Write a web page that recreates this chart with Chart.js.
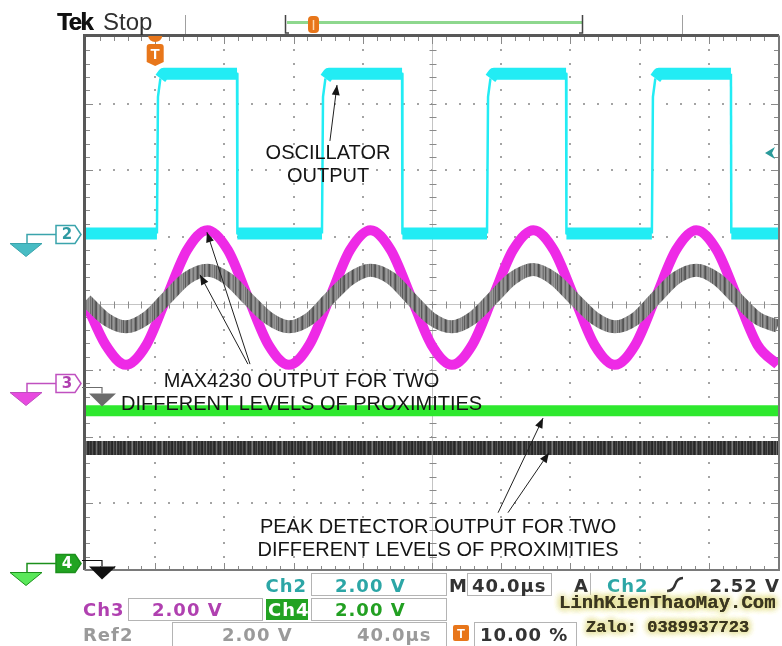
<!DOCTYPE html>
<html><head><meta charset="utf-8">
<script src="https://cdn.jsdelivr.net/npm/chart.js@4.4.1/dist/chart.umd.min.js"></script>
<style>html,body{margin:0;padding:0;background:#fff;}canvas{display:block;}</style>
</head><body>
<canvas id="c" width="782" height="646"></canvas>
<script>
// ---- axes: time in µs (40 µs/div, 10 div), vertical in divisions (8 div) ----
const timeMin = 0, timeMax = 400, timeDiv = 40;
const divMin = -4, divMax = 4;

// ---- Ch2: oscillator output (square wave) ----
const cyanT = [0, 41.0, 41.6, 43.0, 45.0, 87.3, 87.5, 136.4, 137.0, 138.4, 140.4, 182.7, 182.9,
               231.8, 232.4, 233.8, 235.8, 277.5, 277.7, 327.1, 327.7, 329.1, 331.1, 372.8, 373.0, 400];
const cyanV = [1.05, 1.05, 3.10, 3.38, 3.45, 3.45, 1.05, 1.05, 3.10, 3.38, 3.45, 3.45, 1.05,
               1.05, 3.10, 3.38, 3.45, 3.45, 1.05, 1.05, 3.10, 3.38, 3.45, 3.45, 1.05, 1.05];

// ---- Ch3 (MAX4230 output, near) and Ref2 (MAX4230 output, far) ----
const sineT = [0, 11.3, 23.1, 34.9, 46.6, 58.4, 70.2, 82.0, 93.7, 105.5, 117.3, 129.1, 140.9, 152.6,
               164.4, 176.2, 188.0, 199.7, 211.5, 223.3, 235.1, 246.8, 258.6, 270.4, 282.2, 293.9,
               305.7, 317.5, 329.3, 341.0, 352.8, 364.6, 376.4, 388.1, 399.9];
const magV  = [0.00, -0.62, -0.92, -0.62, 0.09, 0.80, 1.10, 0.80, 0.09, -0.62, -0.92, -0.62, 0.09, 0.80,
               1.10, 0.80, 0.09, -0.62, -0.92, -0.62, 0.09, 0.80, 1.10, 0.80, 0.09, -0.62,
               -0.92, -0.62, 0.09, 0.80, 1.10, 0.80, 0.09, -0.62, -0.92];
const refV  = [0.05, -0.23, -0.35, -0.22, 0.08, 0.38, 0.50, 0.37, 0.07, -0.22, -0.35, -0.23, 0.08, 0.37,
               0.50, 0.38, 0.07, -0.23, -0.35, -0.22, 0.08, 0.38, 0.51, 0.37, 0.07, -0.22,
               -0.35, -0.23, 0.08, 0.38, 0.50, 0.37, 0.07, -0.22, -0.34];

// ---- Ch4 and Ref1: peak detector outputs ----
const flatT  = [0, 400];
const greenV = [-1.61, -1.61];
const darkV  = [-2.17, -2.17];

// ---- markers (divisions / µs) ----
const ch2Ground = 1.05, ch3Ground = -1.19, ref2Ground = -1.25, ch4Ground = -3.89, ref1Ground = -3.85;
const trigLevel = 2.26, trigTime = 40;

// ---- readouts ----
const readCh2 = '2.00 V', readCh3 = '2.00 V', readCh4 = '2.00 V';
const readRef2V = '2.00 V', readRef2T = '40.0\u00b5s';
const readTime = '40.0\u00b5s', readTrig = '2.52 V', readPos = '10.00 %';

const pts = (T, V) => T.map((t, i) => ({x: t, y: V[i]}));

const cv = document.getElementById('c');
const ctx0 = cv.getContext('2d');
function stripes(cols) {
  const c = document.createElement('canvas'); c.width = cols.length; c.height = 4;
  const g = c.getContext('2d');
  cols.forEach((col, i) => { g.fillStyle = col; g.fillRect(i, 0, 1, 4); });
  return ctx0.createPattern(c, 'repeat');
}
const refPat = stripes(['#8a8a8a','#7c7c7c','#5e5e5e','#555555','#8e8e8e','#9a9a9a','#848484','#6a6a6a','#909090',
  '#969696','#7a7a7a','#4e4e4e','#626262','#8c8c8c','#9c9c9c','#888888','#727272','#949494','#5a5a5a','#808080',
  '#989898','#8a8a8a','#666666','#525252','#7e7e7e','#929292','#868686','#9a9a9a','#707070','#8c8c8c','#5c5c5c']);
const darkPat = stripes(['#2c2c2c','#333333','#555555','#303030','#262626','#3c3c3c','#6e6e6e','#444444','#2a2a2a',
  '#383838','#2e2e2e','#5a5a5a','#7a7a7a','#353535','#282828','#404040','#303030','#626262','#2a2a2a','#363636',
  '#4a4a4a','#2c2c2c','#242424','#585858','#3a3a3a','#2e2e2e','#6a6a6a','#323232','#2a2a2a','#444444']);

function arrow(ctx, x1, y1, x2, y2) {
  ctx.beginPath(); ctx.moveTo(x1, y1); ctx.lineTo(x2, y2); ctx.stroke();
  const a = Math.atan2(y2 - y1, x2 - x1), L = 10, W = 4;
  ctx.beginPath();
  ctx.moveTo(x2, y2);
  ctx.lineTo(x2 - L*Math.cos(a) + W*Math.sin(a), y2 - L*Math.sin(a) - W*Math.cos(a));
  ctx.lineTo(x2 - L*Math.cos(a) - W*Math.sin(a), y2 - L*Math.sin(a) + W*Math.cos(a));
  ctx.closePath(); ctx.fill();
}
function rrect(ctx, x, y, w, h, r) {
  ctx.beginPath(); ctx.moveTo(x + r, y); ctx.arcTo(x + w, y, x + w, y + h, r);
  ctx.arcTo(x + w, y + h, x, y + h, r); ctx.arcTo(x, y + h, x, y, r); ctx.arcTo(x, y, x + w, y, r); ctx.closePath();
}

const graticule = {
  id: 'graticule',
  beforeDatasetsDraw(chart) {
    const {ctx, chartArea: a, scales: {x, y}} = chart;
    const X = v => x.getPixelForValue(v), Y = v => y.getPixelForValue(v);
    ctx.save();
    ctx.fillStyle = '#a4a4a4';
    for (let i = 1; i < 10; i++) {
      if (i === 5) continue;
      const px = Math.round(X(i * timeDiv));
      for (let k = 1; k < 40; k++) ctx.fillRect(px - 1, Math.round(Y(divMin + k * 0.2)) - 1, 2, 2);
    }
    for (let j = -3; j <= 3; j++) {
      if (j === 0) continue;
      const py = Math.round(Y(j));
      for (let k = 1; k < 50; k++) ctx.fillRect(Math.round(X(k * 8)) - 1, py - 1, 2, 2);
    }
    const cx = Math.round(X(200)) + 0.5, cy = Math.round(Y(0)) + 0.5;
    ctx.strokeStyle = '#c4c4c4'; ctx.lineWidth = 1;
    ctx.beginPath(); ctx.moveTo(cx, a.top); ctx.lineTo(cx, a.bottom); ctx.moveTo(a.left, cy); ctx.lineTo(a.right, cy); ctx.stroke();
    ctx.strokeStyle = '#8a8a8a';
    ctx.beginPath();
    for (let k = 1; k < 40; k++) { const py = Math.round(Y(divMin + k * 0.2)) + 0.5; ctx.moveTo(cx - 3, py); ctx.lineTo(cx + 4, py); }
    for (let k = 1; k < 50; k++) { const px = Math.round(X(k * 8)) + 0.5; ctx.moveTo(px, cy - 3); ctx.lineTo(px, cy + 4); }
    for (let k = 1; k < 50; k++) {
      const px = Math.round(X(k * 8)) + 0.5, L = k % 5 === 0 ? 7 : 4;
      ctx.moveTo(px, a.top); ctx.lineTo(px, a.top + L); ctx.moveTo(px, a.bottom); ctx.lineTo(px, a.bottom - L);
    }
    for (let k = 1; k < 40; k++) {
      const py = Math.round(Y(divMin + k * 0.2)) + 0.5, L = k % 5 === 0 ? 7 : 4;
      ctx.moveTo(a.left, py); ctx.lineTo(a.left + L, py); ctx.moveTo(a.right, py); ctx.lineTo(a.right - L, py);
    }
    ctx.stroke();
    ctx.restore();
  },
  afterDatasetsDraw(chart) {
    const {ctx, chartArea: a, scales: {x, y}} = chart;
    const X = v => x.getPixelForValue(v), Y = v => y.getPixelForValue(v);
    ctx.save();
    // frame
    ctx.strokeStyle = '#585858'; ctx.lineWidth = 3;
    ctx.beginPath(); ctx.moveTo(a.left - 1.5, a.bottom); ctx.lineTo(a.left - 1.5, a.top - 1.5); ctx.lineTo(a.right + 1, a.top - 1.5); ctx.stroke();
    ctx.strokeStyle = '#7a7a7a'; ctx.lineWidth = 2;
    ctx.beginPath(); ctx.moveTo(a.right + 1, a.top - 1.5); ctx.lineTo(a.right + 1, a.bottom); ctx.lineTo(a.left - 1.5, a.bottom); ctx.stroke();

    // annotations
    ctx.fillStyle = '#151515'; ctx.strokeStyle = '#202020'; ctx.lineWidth = 1;
    ctx.font = '20px "Liberation Sans", Arial, sans-serif'; ctx.textAlign = 'center'; ctx.textBaseline = 'alphabetic';
    ctx.fillText('OSCILLATOR', X(139.9), Y(2.17));
    ctx.fillText('OUTPUT', X(139.9), Y(1.82));
    ctx.fillText('MAX4230 OUTPUT FOR TWO', X(124.6), Y(-1.25));
    ctx.fillText('DIFFERENT LEVELS OF PROXIMITIES', X(124.6), Y(-1.60));
    ctx.fillText('PEAK DETECTOR OUTPUT FOR TWO', X(203.5), Y(-3.445));
    ctx.fillText('DIFFERENT LEVELS OF PROXIMITIES', X(203.5), Y(-3.79));
    arrow(ctx, X(141.0), Y(2.44), X(145.1), Y(3.28));
    arrow(ctx, X(94.8), Y(-0.91), X(69.9), Y(1.07));
    arrow(ctx, X(93.6), Y(-0.91), X(65.9), Y(0.43));
    arrow(ctx, X(238.2), Y(-3.14), X(264.2), Y(-1.72));
    arrow(ctx, X(243.9), Y(-3.14), X(267.6), Y(-2.24));

    // ground markers on the left
    const L = a.left;
    function tag(level, label, stroke, fill, txt, triFill) {
      const py = Math.round(Y(level)) + 0.5;
      ctx.strokeStyle = stroke; ctx.lineWidth = 1.5;
      ctx.beginPath(); ctx.moveTo(L - 29, py); ctx.lineTo(L - 59, py); ctx.lineTo(L - 59, py + 9); ctx.stroke();
      ctx.beginPath(); ctx.moveTo(L - 76, py + 9); ctx.lineTo(L - 44, py + 9); ctx.lineTo(L - 60, py + 22); ctx.closePath();
      ctx.fillStyle = triFill; ctx.fill(); ctx.lineWidth = 1; ctx.stroke();
      ctx.beginPath(); ctx.moveTo(L - 30, py - 9); ctx.lineTo(L - 11, py - 9); ctx.lineTo(L - 5, py); ctx.lineTo(L - 11, py + 9); ctx.lineTo(L - 30, py + 9); ctx.closePath();
      ctx.fillStyle = fill; ctx.fill(); ctx.lineWidth = 1.5; ctx.strokeStyle = stroke; ctx.stroke();
      ctx.fillStyle = txt; ctx.font = 'bold 15px "DejaVu Sans", sans-serif'; ctx.textAlign = 'center'; ctx.textBaseline = 'middle';
      ctx.fillText(label, L - 19, py + 1);
    }
    tag(ch2Ground, '2', '#3aa4ac', '#ffffff', '#2e9aa2', '#48bcc4');
    tag(ch3Ground, '3', '#c050c0', '#ffffff', '#b040b0', '#e84ae0');
    tag(ch4Ground, '4', '#1c901c', '#22a422', '#ffffff', '#5ae85a');
    function refTri(level, col) {
      const py = Math.round(Y(level)) + 0.5;
      ctx.strokeStyle = col; ctx.lineWidth = 1.2;
      ctx.beginPath(); ctx.moveTo(L - 4, py); ctx.lineTo(L + 16, py); ctx.lineTo(L + 16, py + 6); ctx.stroke();
      ctx.beginPath(); ctx.moveTo(L + 3, py + 6); ctx.lineTo(L + 30, py + 6); ctx.lineTo(L + 16, py + 19); ctx.closePath();
      ctx.fillStyle = col; ctx.fill();
    }
    refTri(ref2Ground, '#6c6c6c');
    refTri(ref1Ground, '#111111');

    // trigger level arrow (right)
    const ty = Y(trigLevel);
    ctx.fillStyle = '#2a9a9a';
    ctx.beginPath(); ctx.moveTo(a.right - 13, ty); ctx.lineTo(a.right - 3, ty - 6); ctx.lineTo(a.right - 6, ty); ctx.lineTo(a.right - 3, ty + 6); ctx.closePath(); ctx.fill();

    // trigger position marker (top)
    const tx = X(trigTime);
    ctx.fillStyle = '#e8761a';
    ctx.beginPath(); ctx.ellipse(tx, a.top - 1, 7, 6, 0, 0, Math.PI); ctx.fill();
    ctx.beginPath(); ctx.moveTo(tx - 8.5, a.top + 10); ctx.arcTo(tx - 8.5, a.top + 7, tx, a.top + 7, 3); ctx.lineTo(tx + 5.5, a.top + 7);
    ctx.arcTo(tx + 8.5, a.top + 7, tx + 8.5, a.top + 10, 3); ctx.lineTo(tx + 8.5, a.top + 25); ctx.lineTo(tx, a.top + 29); ctx.lineTo(tx - 8.5, a.top + 25); ctx.closePath(); ctx.fill();
    ctx.fillStyle = '#fff'; ctx.font = 'bold 15px "Liberation Sans", sans-serif'; ctx.textAlign = 'center'; ctx.textBaseline = 'middle';
    ctx.fillText('T', tx, a.top + 18);
    ctx.restore();
  },
  afterDraw(chart) {
    const {ctx} = chart;
    ctx.save();
    ctx.textBaseline = 'alphabetic'; ctx.textAlign = 'left';
    // header
    ctx.fillStyle = '#111';
    ctx.font = 'bold 24px "Liberation Sans", Arial, sans-serif';
    ctx.letterSpacing = '-1.5px';
    ctx.fillText('Tek', 57, 30);
    ctx.fillText('Tek', 57.5, 30);
    ctx.letterSpacing = '0px';
    ctx.fillStyle = '#303030';
    ctx.font = '24px "Liberation Sans", Arial, sans-serif';
    ctx.fillText('Stop', 103, 30);
    ctx.strokeStyle = '#a0a0a0'; ctx.lineWidth = 1;
    ctx.beginPath(); ctx.moveTo(185.5, 15); ctx.lineTo(185.5, 34); ctx.moveTo(682.5, 15); ctx.lineTo(682.5, 34); ctx.stroke();
    ctx.strokeStyle = '#8ed88e'; ctx.lineWidth = 3;
    ctx.beginPath(); ctx.moveTo(287, 22.5); ctx.lineTo(582, 22.5); ctx.stroke();
    ctx.strokeStyle = '#444'; ctx.lineWidth = 1.5;
    ctx.beginPath(); ctx.moveTo(285.5, 15); ctx.lineTo(285.5, 33); ctx.lineTo(289, 33); ctx.moveTo(582.5, 15); ctx.lineTo(582.5, 33); ctx.lineTo(579, 33); ctx.stroke();
    ctx.fillStyle = '#e8761a'; rrect(ctx, 308, 16, 11, 17, 4); ctx.fill();
    ctx.strokeStyle = '#ffd9b0'; ctx.lineWidth = 1.5; ctx.beginPath(); ctx.moveTo(313.5, 20); ctx.lineTo(313.5, 30); ctx.stroke();

    // readout boxes
    ctx.strokeStyle = '#b4b4b4'; ctx.lineWidth = 1;
    const boxes = [[311.5,573.5,135,22],[467.5,573.5,84,22],[128.5,598.5,134,22],[311.5,598.5,135,22],[172.5,622.5,274,26],[474.5,622.5,102,26]];
    boxes.forEach(b => ctx.strokeRect(b[0], b[1], b[2], b[3]));
    ctx.beginPath(); ctx.moveTo(590.5, 573); ctx.lineTo(590.5, 595); ctx.stroke();
    ctx.fillStyle = '#22a222'; ctx.fillRect(266, 599, 42, 21);

    ctx.font = 'bold 18px "DejaVu Sans", Verdana, sans-serif';
    ctx.letterSpacing = '1px';
    const T = (s, xx, yy, col, al) => { ctx.fillStyle = col; ctx.textAlign = al || 'left'; ctx.fillText(s, xx, yy); };
    T('Ch2', 307, 592, '#2ca6a6', 'right');
    T(readCh2, 335, 592, '#2ca6a6');
    T('M', 449, 592, '#333');
    T(readTime, 472, 592, '#333');
    T('A', 574, 592, '#333');
    T('Ch2', 607, 592, '#2ca6a6');
    T(readTrig, 780, 592, '#333', 'right');
    T('Ch3', 83, 616, '#b040b0');
    T(readCh3, 152, 616, '#b040b0');
    T('Ch4', 268, 616, '#ffffff');
    T(readCh4, 335, 616, '#22a022');
    T('Ref2', 83, 641, '#9a9a9a');
    T(readRef2V, 222, 641, '#9a9a9a');
    T(readRef2T, 357, 641, '#9a9a9a');
    T(readPos, 480, 641, '#333');
    ctx.letterSpacing = '0px';
    // edge symbol
    ctx.strokeStyle = '#333'; ctx.lineWidth = 2.5;
    ctx.beginPath(); ctx.moveTo(667, 591); ctx.quadraticCurveTo(673, 591, 675, 585); ctx.quadraticCurveTo(677, 578, 683, 578); ctx.stroke();
    // trigger position icon
    ctx.fillStyle = '#e8761a'; rrect(ctx, 453, 625, 16, 16, 2); ctx.fill();
    ctx.fillStyle = '#fff'; ctx.font = 'bold 13px "Liberation Sans", sans-serif'; ctx.textAlign = 'center'; ctx.fillText('T', 461, 638);

    // watermark
    ctx.textAlign = 'left';
    const wm = (s, xx, yy, f) => {
      ctx.font = f;
      ctx.shadowColor = 'rgba(225,220,140,1)'; ctx.shadowBlur = 7;
      ctx.fillStyle = '#3a3620';
      for (let i = 0; i < 4; i++) ctx.fillText(s, xx, yy);
      ctx.shadowBlur = 0;
    };
    wm('LinhKienThaoMay.Com', 559, 608, 'bold 19px "Liberation Mono", monospace');
    wm('Zalo: 0389937723', 586, 632, 'bold 17px "Liberation Mono", monospace');
    ctx.restore();
  }
};

new Chart(cv, {
  type: 'line',
  data: {
    datasets: [
      { label: 'Ch2', data: pts(cyanT, cyanV), borderColor: '#22ecf4', borderWidth: 12, borderCapStyle: 'butt',
        segment: { borderWidth: c => Math.abs(c.p1.parsed.y - c.p0.parsed.y) < 0.1 ? 12 : 2.5 }, order: 1 },
      { label: 'Ref2', data: pts(sineT, refV), borderColor: refPat, borderWidth: 13, cubicInterpolationMode: 'monotone', order: 2 },
      { label: 'Ch3', data: pts(sineT, magV), borderColor: '#ee2ae6', borderWidth: 10, cubicInterpolationMode: 'monotone', order: 3 },
      { label: 'Ch4', data: pts(flatT, greenV), borderColor: '#2ee82e', borderWidth: 11, order: 4 },
      { label: 'Ref1', data: pts(flatT, darkV), borderColor: darkPat, borderWidth: 14, order: 5 }
    ]
  },
  options: {
    responsive: false, animation: false, devicePixelRatio: 1,
    layout: { padding: { left: 86, right: 4, top: 37, bottom: 76 } },
    scales: {
      x: { type: 'linear', min: timeMin, max: timeMax, display: false },
      y: { type: 'linear', min: divMin, max: divMax, display: false }
    },
    elements: { point: { radius: 0 }, line: { borderJoinStyle: 'round' } },
    plugins: { legend: { display: false }, tooltip: { enabled: false } }
  },
  plugins: [graticule]
});
</script>
</body></html>
